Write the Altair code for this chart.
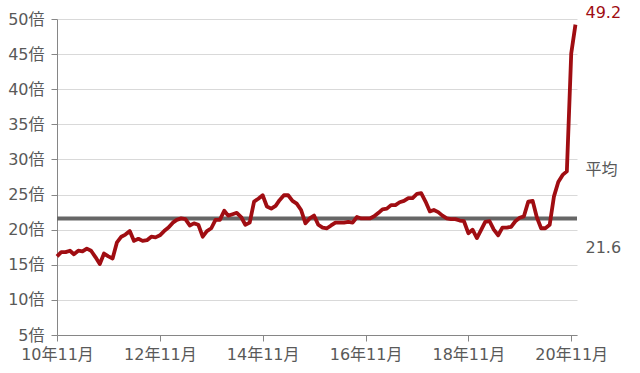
import altair as alt
import pandas as pd

values = [
    16.2, 16.8, 16.8, 17.0, 16.5, 17.0, 16.9, 17.3, 17.0, 16.1, 15.1, 16.6,
    16.2, 15.9, 18.2, 19.0, 19.3, 19.8, 18.4, 18.7, 18.4, 18.5, 19.0, 18.9,
    19.2, 19.8, 20.3, 21.0, 21.4, 21.6, 21.5, 20.6, 20.9, 20.7, 19.0, 19.8,
    20.2, 21.4, 21.4, 22.7, 22.0, 22.2, 22.4, 21.8, 20.7, 21.0, 24.0, 24.4,
    24.9, 23.3, 23.0, 23.4, 24.2, 24.9, 24.9, 24.1, 23.7, 22.8, 20.9, 21.6,
    22.0, 20.7, 20.3, 20.2, 20.6, 21.0, 21.0, 21.0, 21.1, 21.0, 21.8, 21.6,
    21.6, 21.6, 21.9, 22.4, 22.9, 23.0, 23.5, 23.5, 23.9, 24.1, 24.5, 24.5,
    25.1, 25.2, 24.0, 22.6, 22.8, 22.5, 22.0, 21.6, 21.5, 21.5, 21.3, 21.2,
    19.5, 20.0, 18.8, 20.0, 21.1, 21.2, 20.0, 19.2, 20.3, 20.3, 20.4, 21.2,
    21.7, 21.9, 24.0, 24.1, 21.8, 20.2, 20.2, 20.7, 24.7, 26.8, 27.8, 28.3,
    45.1, 49.2,
]
months = pd.date_range("2010-11-01", periods=len(values), freq="MS").strftime("%Y-%m-%dT00:00:00").tolist()
average = 21.6
y_ticks = [5, 10, 15, 20, 25, 30, 35, 40, 45, 50]
x_tick_years = [2010, 2012, 2014, 2016, 2018, 2020]

FONT = "DejaVu Sans, 'Noto Sans CJK JP', sans-serif"
RED = "#A00D12"
GRAY_TXT = "#595959"

df = pd.DataFrame({"month": months, "per": values, "avg": [average] * len(values)})

x_axis = alt.Axis(
    values=[alt.DateTime(year=y, month=11, date=1) for y in x_tick_years],
    tickCount=len(x_tick_years),
    labelExpr="timeFormat(datum.value, '%y年%m月')",
    grid=False,
    title=None,
    domainColor="#868686",
    tickColor="#868686",
    tickSize=6,
    labelPadding=5,
    labelFontSize=16,
    labelColor=GRAY_TXT,
    labelFont=FONT,
    labelOverlap=False,
    labelFlush=False,
    labelBound=False,
)
y_axis = alt.Axis(
    values=y_ticks,
    tickCount=len(y_ticks),
    labelExpr="datum.value + '倍'",
    grid=True,
    gridColor="#D9D9D9",
    title=None,
    domainColor="#868686",
    tickColor="#868686",
    tickSize=6,
    labelPadding=7,
    labelFontSize=16,
    labelColor=GRAY_TXT,
    labelFont=FONT,
    labelOverlap=False,
    labelFlush=False,
    labelBound=False,
)
x_scale = alt.Scale(domain=["2010-11-01T00:00:00", "2020-12-12T00:00:00"])
y_scale = alt.Scale(domain=[5, 50], nice=False, zero=False)

base = alt.Chart(df)

avg_rule = base.mark_rule(color="#666666", strokeWidth=4).encode(
    y=alt.Y("mean(avg):Q", scale=y_scale, axis=y_axis)
)

line = base.mark_line(color=RED, strokeWidth=3.8, strokeJoin="round").encode(
    x=alt.X("month:T", scale=x_scale, axis=x_axis),
    y=alt.Y("per:Q", scale=y_scale, axis=y_axis),
)

last_df = pd.DataFrame({"month": [months[-1]], "per": [values[-1]], "label": [f"{values[-1]:.1f}"]})
last_text = alt.Chart(last_df).mark_text(
    align="left", baseline="middle", dx=10, dy=-12, fontSize=16, font=FONT, color=RED
).encode(x="month:T", y="per:Q", text="label:N")

avg_df = pd.DataFrame({"month": [months[-1]], "per": [average], "label": [f"{average:.1f}"], "name": ["平均"]})
avg_name = alt.Chart(avg_df).mark_text(
    align="left", baseline="middle", dx=10, dy=-48, fontSize=16, font=FONT, color=GRAY_TXT
).encode(x="month:T", y="per:Q", text="name:N")
avg_val = alt.Chart(avg_df).mark_text(
    align="left", baseline="middle", dx=10, dy=30, fontSize=16, font=FONT, color=GRAY_TXT
).encode(x="month:T", y="per:Q", text="label:N")

chart = alt.layer(avg_rule, line, last_text, avg_name, avg_val).properties(
    width=520,
    height=316,
    autosize=alt.AutoSizeParams(type="none"),
    padding={"left": 57, "top": 19, "right": 63, "bottom": 38},
    background="white",
).configure_view(stroke=None)

chart.save("out.html", embed_options={"renderer": "svg", "actions": False})
